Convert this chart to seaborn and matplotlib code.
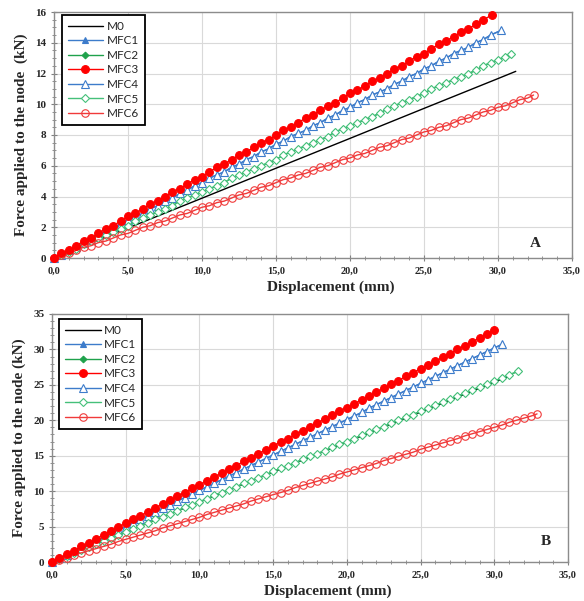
import matplotlib
matplotlib.use('Agg')
import matplotlib.pyplot as plt
import seaborn as sns
from matplotlib.ticker import MultipleLocator

sns.set_style('ticks')
plt.rcParams['font.family'] = ['Liberation Serif', 'DejaVu Serif']

# ---------- data ----------
# displacement steps (mm), shared by the marked curves; every curve ends at its own last point
DISP = [0.0, 0.5, 1.0, 1.5, 2.0, 2.5, 3.0, 3.5, 4.0, 4.5,
        5.0, 5.5, 6.0, 6.5, 7.0, 7.5, 8.0, 8.5, 9.0, 9.5,
        10.0, 10.5, 11.0, 11.5, 12.0, 12.5, 13.0, 13.5, 14.0, 14.5,
        15.0, 15.5, 16.0, 16.5, 17.0, 17.5, 18.0, 18.5, 19.0, 19.5,
        20.0, 20.5, 21.0, 21.5, 22.0, 22.5, 23.0, 23.5, 24.0, 24.5,
        25.0, 25.5, 26.0, 26.5, 27.0, 27.5, 28.0, 28.5, 29.0, 29.5,
        30.0, 30.5, 31.0, 31.5, 32.0, 32.5, 33.0]

SERIES = ['M0', 'MFC1', 'MFC2', 'MFC3', 'MFC4', 'MFC5', 'MFC6']

# M0 is a plain line without markers: read at 5 mm steps
M0_DISP_A = [0.0, 5.0, 10.0, 15.0, 20.0, 25.0, 30.0, 31.2]
A_M0 = [0.0, 1.95, 3.89, 5.84, 7.78, 9.73, 11.67, 12.14]
M0_DISP_B = [0.0, 5.0, 10.0, 15.0, 20.0, 25.0, 30.0, 31.2]
B_M0 = [0.0, 4.23, 8.46, 12.69, 16.92, 21.15, 25.38, 26.4]

# panel A forces (kN)
A_MFC1 = [0.0, 0.2, 0.5, 0.7, 1.0, 1.2, 1.5, 1.7, 2.0, 2.2,
          2.5, 2.7, 2.9, 3.2, 3.4, 3.7, 3.9, 4.2, 4.4, 4.7,
          4.9, 5.2, 5.4, 5.6, 5.9, 6.1, 6.4, 6.6, 6.9, 7.1,
          7.4, 7.6, 7.9, 8.1, 8.3, 8.6, 8.8, 9.1, 9.3, 9.6,
          9.8, 10.1, 10.3, 10.6, 10.8, 11.0, 11.3, 11.5, 11.8, 12.0,
          12.3, 12.5, 12.8, 13.0, 13.3, 13.5, 13.7, 14.0, 14.2, 14.5,
          14.8]
A_MFC2 = [0.0, 0.2, 0.4, 0.6, 0.9, 1.1, 1.3, 1.5, 1.7, 1.9,
          2.1, 2.4, 2.6, 2.8, 3.0, 3.2, 3.4, 3.7, 3.9, 4.1,
          4.3, 4.5, 4.7, 4.9, 5.2, 5.4, 5.6, 5.8, 6.0, 6.2,
          6.4, 6.7, 6.9, 7.1, 7.3, 7.5, 7.7, 7.9, 8.2, 8.4,
          8.6, 8.8, 9.0, 9.2, 9.4, 9.7, 9.9, 10.1, 10.3, 10.5,
          10.7, 11.0, 11.2, 11.4, 11.6, 11.8, 12.0, 12.2, 12.5, 12.7,
          12.9, 13.1,
          13.3]
A_MFC3 = [0.0, 0.3, 0.5, 0.8, 1.1, 1.3, 1.6, 1.9, 2.1, 2.4,
          2.7, 2.9, 3.2, 3.5, 3.7, 4.0, 4.3, 4.5, 4.8, 5.1,
          5.3, 5.6, 5.9, 6.1, 6.4, 6.7, 6.9, 7.2, 7.5, 7.7,
          8.0, 8.3, 8.5, 8.8, 9.1, 9.3, 9.6, 9.9, 10.1, 10.4,
          10.7, 10.9, 11.2, 11.5, 11.7, 12.0, 12.3, 12.5, 12.8, 13.1,
          13.3, 13.6, 13.9, 14.1, 14.4, 14.7, 14.9, 15.2, 15.5,
          15.8]
A_MFC4 = list(A_MFC1)   # lies on MFC1 in the picture
A_MFC5 = list(A_MFC2)   # lies on MFC2 in the picture
A_MFC6 = [0.0, 0.2, 0.3, 0.5, 0.7, 0.8, 1.0, 1.1, 1.3, 1.5,
          1.6, 1.8, 2.0, 2.1, 2.3, 2.4, 2.6, 2.8, 2.9, 3.1,
          3.3, 3.4, 3.6, 3.7, 3.9, 4.1, 4.2, 4.4, 4.6, 4.7,
          4.9, 5.1, 5.2, 5.4, 5.5, 5.7, 5.9, 6.0, 6.2, 6.4,
          6.5, 6.7, 6.8, 7.0, 7.2, 7.3, 7.5, 7.7, 7.8, 8.0,
          8.2, 8.3, 8.5, 8.6, 8.8, 9.0, 9.1, 9.3, 9.5, 9.6,
          9.8, 9.9, 10.1, 10.3, 10.4,
          10.6]
A_XEND = [31.2, 30.2, 30.9, 29.6, 30.2, 30.9, 32.4]

# panel B forces (kN)
B_MFC1 = [0.0, 0.5, 1.0, 1.5, 2.0, 2.5, 3.0, 3.5, 4.0, 4.5,
          5.0, 5.5, 6.0, 6.5, 7.0, 7.6, 8.1, 8.6, 9.1, 9.6,
          10.1, 10.6, 11.1, 11.6, 12.1, 12.6, 13.1, 13.6, 14.1, 14.6,
          15.1, 15.6, 16.1, 16.6, 17.1, 17.6, 18.1, 18.6, 19.1, 19.6,
          20.1, 20.6, 21.1, 21.7, 22.2, 22.7, 23.2, 23.7, 24.2, 24.7,
          25.2, 25.7, 26.2, 26.7, 27.2, 27.7, 28.2, 28.7, 29.2, 29.7,
          30.2,
          30.7]
B_MFC2 = [0.0, 0.4, 0.9, 1.3, 1.7, 2.1, 2.6, 3.0, 3.4, 3.8,
          4.3, 4.7, 5.1, 5.5, 6.0, 6.4, 6.8, 7.2, 7.7, 8.1,
          8.5, 8.9, 9.4, 9.8, 10.2, 10.6, 11.1, 11.5, 11.9, 12.3,
          12.8, 13.2, 13.6, 14.0, 14.5, 14.9, 15.3, 15.7, 16.2, 16.6,
          17.0, 17.4, 17.9, 18.3, 18.7, 19.1, 19.6, 20.0, 20.4, 20.8,
          21.3, 21.7, 22.1, 22.6, 23.0, 23.4, 23.8, 24.3, 24.7, 25.1,
          25.5, 26.0, 26.4,
          26.9]
B_MFC3 = [0.0, 0.5, 1.1, 1.6, 2.2, 2.7, 3.3, 3.8, 4.4, 4.9,
          5.5, 6.0, 6.5, 7.1, 7.6, 8.2, 8.7, 9.3, 9.8, 10.4,
          10.9, 11.4, 12.0, 12.5, 13.1, 13.6, 14.2, 14.7, 15.3, 15.8,
          16.4, 16.9, 17.4, 18.0, 18.5, 19.1, 19.6, 20.2, 20.7, 21.3,
          21.8, 22.3, 22.9, 23.4, 24.0, 24.5, 25.1, 25.6, 26.2, 26.7,
          27.3, 27.8, 28.3, 28.9, 29.4, 30.0, 30.5, 31.1, 31.6, 32.2,
          32.7]
B_MFC4 = list(B_MFC1)
B_MFC5 = list(B_MFC2)
B_MFC6 = [0.0, 0.3, 0.6, 1.0, 1.3, 1.6, 1.9, 2.2, 2.5, 2.9,
          3.2, 3.5, 3.8, 4.1, 4.4, 4.8, 5.1, 5.4, 5.7, 6.0,
          6.3, 6.7, 7.0, 7.3, 7.6, 7.9, 8.2, 8.6, 8.9, 9.2,
          9.5, 9.8, 10.1, 10.5, 10.8, 11.1, 11.4, 11.7, 12.0, 12.4,
          12.7, 13.0, 13.3, 13.6, 13.9, 14.3, 14.6, 14.9, 15.2, 15.5,
          15.9, 16.2, 16.5, 16.8, 17.1, 17.4, 17.8, 18.1, 18.4, 18.7,
          19.0, 19.3, 19.7, 20.0, 20.3, 20.6,
          20.9]
B_XEND = [31.2, 30.5, 31.6, 30.0, 30.5, 31.6, 32.9]

X_TICKS = [0, 5, 10, 15, 20, 25, 30, 35]
X_TICKLABELS = ['0,0', '5,0', '10,0', '15,0', '20,0', '25,0', '30,0', '35,0']
A_YTICKS = [0, 2, 4, 6, 8, 10, 12, 14, 16]
B_YTICKS = [0, 5, 10, 15, 20, 25, 30, 35]

# ---------- styles ----------
COLORS = ['black', '#3d7ccb', '#1fa24c', '#ff0000', '#3d7ccb', '#45c07a', '#f03a3a']
MARKERS = [None, '^', 'D', 'o', '^', 'D', 'o']
FACES = [None, '#3d7ccb', '#1fa24c', '#ff0000', 'white', 'white', 'none']
MSIZE = [0, 5.0, 3.4, 5.6, 5.2, 3.8, 5.4]
ZORD = [3, 3, 3, 6, 4, 4, 5]
LEGEND_FONT = {'family': 'Lato', 'size': 8.5}


def draw_panel(ax, m0_disp, forces, xends, yticks, yminor, letter, ylabel,
               letter_pos, leg_anchor):
    for i, (name, f, xe) in enumerate(zip(SERIES, forces, xends)):
        if i == 0:
            x = m0_disp
        else:
            x = DISP[:len(f) - 1] + [xe]
            assert x[-2] < xe, name
        col = COLORS[i]
        kw = dict(color=col, linewidth=1.0, zorder=ZORD[i], clip_on=False)
        if MARKERS[i] is not None:
            kw.update(marker=MARKERS[i], markersize=MSIZE[i], markeredgecolor=col,
                      markerfacecolor=FACES[i], markeredgewidth=0.8)
        sns.lineplot(x=x, y=f, ax=ax, label=name, sort=False, **kw)

    ax.set_xlim(0, 35)
    ax.set_ylim(yticks[0], yticks[-1])
    ax.set_xticks(X_TICKS)
    ax.set_xticklabels(X_TICKLABELS, fontsize=7.5, fontweight='bold')
    ax.set_yticks(yticks)
    ax.set_yticklabels([str(t) for t in yticks], fontsize=8, fontweight='bold')
    ax.xaxis.set_minor_locator(MultipleLocator(1))
    ax.yaxis.set_minor_locator(MultipleLocator(yminor))
    ax.tick_params(axis='x', which='major', pad=4)
    ax.tick_params(which='major', direction='inout', length=4, width=0.8, color='#808080')
    ax.tick_params(which='minor', direction='inout', length=3, width=0.6, color='#808080')
    ax.grid(True, which='major', color='#d9d9d9', linewidth=0.8)
    ax.set_axisbelow(True)
    for sp in ax.spines.values():
        sp.set_visible(True)
        sp.set_color('#8c8c8c')
        sp.set_linewidth(1.0)

    ax.set_xlabel('Displacement (mm)', fontsize=11, fontweight='bold')
    ax.xaxis.set_label_coords(0.535, -0.092)
    ax.set_ylabel(ylabel, fontsize=11, fontweight='bold', labelpad=5)
    ax.text(letter_pos[0], letter_pos[1], letter, transform=ax.transAxes,
            fontsize=11, fontweight='bold', ha='center', va='center')

    leg = ax.legend(loc='upper left', bbox_to_anchor=leg_anchor, borderaxespad=0,
                    frameon=True, fancybox=False, edgecolor='black', framealpha=1,
                    prop=LEGEND_FONT, handlelength=3.0, handletextpad=0.3,
                    labelspacing=0.3, borderpad=0.5, numpoints=1)
    leg.get_frame().set_linewidth(1.3)
    leg.set_zorder(10)


fig = plt.figure(figsize=(5.84, 6.01), dpi=100)
ax_a = fig.add_axes([54 / 584, 1 - 258 / 601, 518 / 584, 246 / 601])
ax_b = fig.add_axes([52 / 584, 1 - 562 / 601, 516 / 584, 248 / 601])

draw_panel(ax_a, M0_DISP_A, [A_M0, A_MFC1, A_MFC2, A_MFC3, A_MFC4, A_MFC5, A_MFC6], A_XEND,
           A_YTICKS, 0.5, 'A', 'Force applied to the node  (kN)', (0.93, 0.06), (0.015, 0.988))
draw_panel(ax_b, M0_DISP_B, [B_M0, B_MFC1, B_MFC2, B_MFC3, B_MFC4, B_MFC5, B_MFC6], B_XEND,
           B_YTICKS, 1, 'B', 'Force applied to the node (kN)', (0.958, 0.083), (0.014, 0.98))

fig.savefig('out.png', dpi=100)
